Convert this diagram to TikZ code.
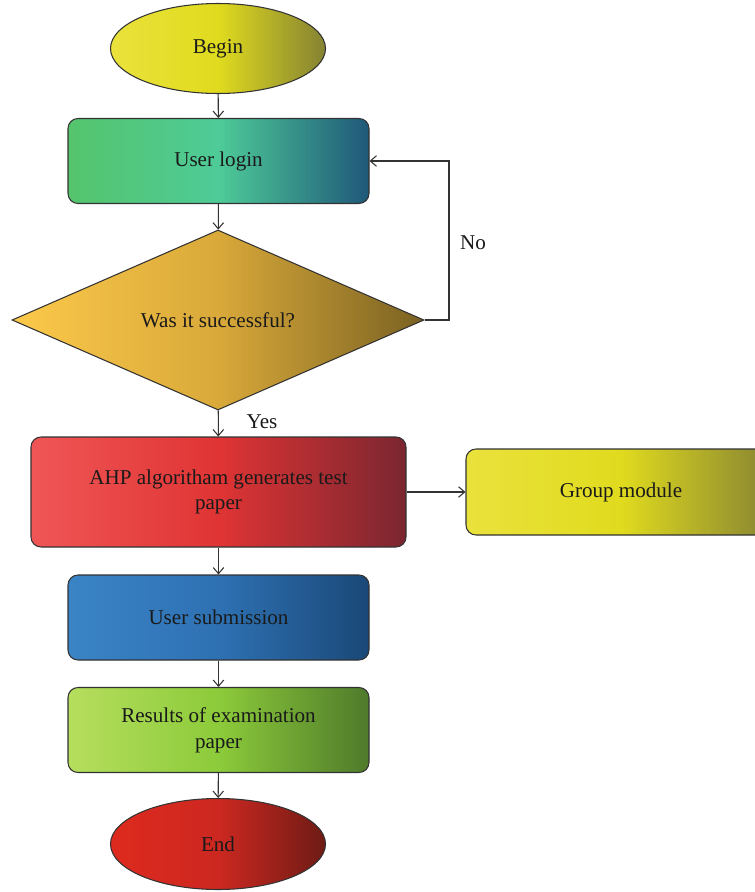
\documentclass[tikz,border=0pt]{standalone}
\usepackage{fontspec}
\setmainfont{Liberation Serif}
\definecolor{FlowLine}{HTML}{333333}
\definecolor{FlowText}{HTML}{1A1A1A}
\definecolor{YellowL}{HTML}{EAE23C}
\definecolor{YellowM}{HTML}{E0DB1E}
\definecolor{YellowR}{HTML}{858233}
\definecolor{GreenL}{HTML}{55C46C}
\definecolor{GreenM}{HTML}{4ECB98}
\definecolor{GreenR}{HTML}{1F5879}
\definecolor{GoldL}{HTML}{FCC94A}
\definecolor{GoldM}{HTML}{D9A93A}
\definecolor{GoldR}{HTML}{7A6222}
\definecolor{RedL}{HTML}{F05656}
\definecolor{RedM}{HTML}{E03434}
\definecolor{RedR}{HTML}{7A2630}
\definecolor{BlueL}{HTML}{3A84C6}
\definecolor{BlueM}{HTML}{2E71B3}
\definecolor{BlueR}{HTML}{1A4877}
\definecolor{LimeL}{HTML}{B6DE5E}
\definecolor{LimeM}{HTML}{8CCB3A}
\definecolor{LimeR}{HTML}{4F7A2B}
\definecolor{EndL}{HTML}{DE2A1E}
\definecolor{EndM}{HTML}{CC2820}
\definecolor{EndR}{HTML}{6E1B15}
\usetikzlibrary{shapes.geometric, arrows.meta, positioning}
\tikzset{
    grad/.style n args={3}{
        left color=#1,
        right color=#3,
        middle color=#2
    },
    flowbox/.style={
        draw=FlowLine,
        line width=0.6pt,
        rounded corners=0.2cm,
        minimum width=6.02cm,
        minimum height=1.7cm,
        text=FlowText,
        font=\fontsize{12}{14.7}\selectfont,
        align=center,
        inner sep=4pt
    },
    terminal/.style={
        draw=FlowLine,
        line width=0.6pt,
        ellipse,
        minimum width=4.3cm,
        minimum height=1.8cm,
        text=FlowText,
        font=\fontsize{12}{14.7}\selectfont,
        inner sep=0pt
    },
    decision/.style={
        draw=FlowLine,
        line width=0.6pt,
        diamond,
        minimum width=8.24cm,
        minimum height=3.6cm,
        text=FlowText,
        font=\fontsize{12}{14.7}\selectfont,
        inner sep=0pt
    },
    arrow/.style={
        -{Straight Barb[length=3.5pt,width=6pt]},
        line width=0.6pt,
        FlowLine
    },
    tag/.style={
        text=FlowText,
        font=\fontsize{12}{14.7}\selectfont
    }
}
\begin{document}
\begin{tikzpicture}
        \useasboundingbox (0,0) rectangle (15.1,-17.84);

        % Begin
        \node[terminal, grad={YellowL}{YellowM}{YellowR}] (begin) at (4.36,-0.97) {Begin};

        % Login and check
        \node[flowbox, grad={GreenL}{GreenM}{GreenR}] (login) at (4.37,-3.22) {User login};
        \node[decision, grad={GoldL}{GoldM}{GoldR}] (check) at (4.36,-6.4) {Was it successful?};
        \coordinate (loop) at (8.98,-6.4);

        % Test paper
        \node[flowbox, grad={RedL}{RedM}{RedR}, minimum width=7.5cm, minimum height=2.2cm] (ahp) at (4.37,-9.84) {AHP algoritham generates test\\paper};
        \node[flowbox, grad={YellowL}{YellowM}{YellowR}, minimum width=6.2cm, minimum height=1.72cm] (group) at (12.42,-9.84) {Group module};

        % Submission and results
        \node[flowbox, grad={BlueL}{BlueM}{BlueR}] (submit) at (4.37,-12.35) {User submission};
        \node[flowbox, grad={LimeL}{LimeM}{LimeR}] (result) at (4.37,-14.6) {Results of examination\\paper};

        % End
        \node[terminal, grad={EndL}{EndM}{EndR}, minimum height=1.82cm] (end) at (4.36,-16.88) {End};

        % Connectors
        \draw[arrow] (begin) -- (login);
        \draw[arrow] (login) -- (check);
        \draw[arrow] (check.east) -- (loop) |- (login.east);
        \draw[arrow] (check) -- (ahp);
        \draw[arrow] (ahp) -- (group);
        \draw[arrow] (ahp) -- (submit);
        \draw[arrow] (submit) -- (result);
        \draw[arrow] (result) -- (end);

        % Labels
        \node[tag] (no) at (9.46,-4.86) {No};
        \node[tag] (yes) at (5.24,-8.44) {Yes};
    \end{tikzpicture}
\end{document}
